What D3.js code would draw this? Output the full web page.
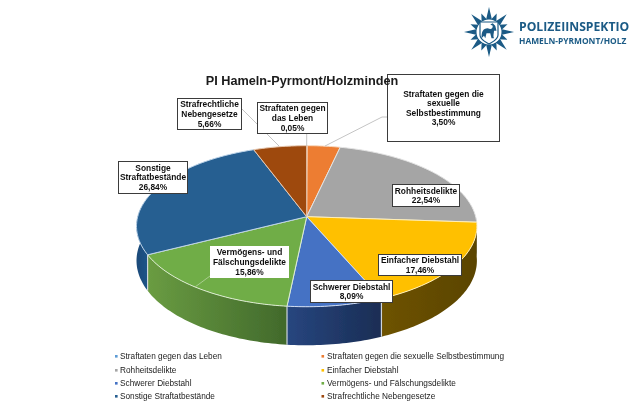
<!DOCTYPE html>
<html lang="de"><head><meta charset="utf-8">
<style>html,body{margin:0;padding:0;background:#fff}svg{display:block}text{font-family:"Liberation Sans",Arial,sans-serif}</style>
<script src="https://cdn.jsdelivr.net/npm/d3@7/dist/d3.min.js"></script></head>
<body><svg id="c" width="630" height="412"></svg>
<script>
// ---- data
const chartTitle = "PI Hameln-Pyrmont/Holzminden";
const categories = ["Straftaten gegen das Leben","Straftaten gegen die sexuelle Selbstbestimmung","Rohheitsdelikte","Einfacher Diebstahl","Schwerer Diebstahl","Vermögens- und Fälschungsdelikte","Sonstige Straftatbestände","Strafrechtliche Nebengesetze"];
const values = [0.05,3.50,22.54,17.46,8.09,15.86,26.84,5.66];
const valueLabels = ["0,05%","3,50%","22,54%","17,46%","8,09%","15,86%","26,84%","5,66%"];
const labelLines = [["Straftaten gegen","das Leben"],["Straftaten gegen die","sexuelle","Selbstbestimmung"],["Rohheitsdelikte"],["Einfacher Diebstahl"],["Schwerer Diebstahl"],["Vermögens- und","Fälschungsdelikte"],["Sonstige","Straftatbestände"],["Strafrechtliche","Nebengesetze"]];
const colors = ["#5B9BD5","#ED7D31","#A5A5A5","#FFC000","#4472C4","#70AD47","#255E91","#9E480E"];
const edgeColors = ["#dbe8f5","#f7d9c0","#e3e3e3","#ffeeb5","#cfdcf2","#dcecd0","#bcd3e8","#e6c8b0"];
const wallLeft = ["#3d6f9e","#a0541f","#777777","#6e5300","#27467f","#6a9c42","#1b4a78","#6e3209"];
const wallRight = ["#3d6f9e","#a0541f","#777777","#5a4400","#1a2d54","#41692b","#205489","#6e3209"];
// ---- layout
const P = {cx:306.7, cy:216.7, a:169, b:79.4, k:0.118, depth:34};
const boxes = [[257,102,70,31],[387,74,112,67],[392,184,67,22],[378,254,83,21],[310,280,82,22],[210,246,78,31],[118,161,69,32],[177,98,64,31]];
const borders = ["#3a3a3a","#3a3a3a","#3a3a3a","#3a3a3a","#3a3a3a","#ffffff","#3a3a3a","#3a3a3a"];
const leaders = [[[306.7,133],[306.7,146]],[[387,117],[382,117],[325,146]],[],[],[],[[210,276],[195,287]],[],[[241,108],[257,124],[279,146]]];
const legendRows = [356,370,383,396], legendCols = [[116,120],[322.5,327]];

const svg = d3.select("#c");
const defs = svg.append("defs");
defs.append("filter").attr("id","soft").attr("x",0).attr("y",0).attr("width","100%").attr("height","100%")
  .append("feGaussianBlur").attr("stdDeviation",0.3);
const g = svg.append("g").attr("filter","url(#soft)");

// perspective projection of the pie disc
const proj = (t, dz=0, r=1) => {
  const s = 1/(1 + P.k*r*Math.cos(t));
  return [P.cx + P.a*r*Math.sin(t)*s, P.cy - P.b*r*Math.cos(t)*s + dz*s];
};
const line = d3.line();
const arcs = d3.pie().sort(null).value(d=>d)(values);
const steps = (a,b) => { const n = Math.max(2,Math.ceil((b-a)/0.02)); return d3.range(n+1).map(i=>a+(b-a)*i/n); };

// side walls
const wallFrom = Math.PI*0.5, wallTo = Math.PI*1.56;
const walls = arcs.map((d,i)=>({i,a:Math.max(d.startAngle,wallFrom),b:Math.min(d.endAngle,wallTo)})).filter(w=>w.b>w.a)
  .sort((p,q)=>Math.abs((q.a+q.b)/2-Math.PI)-Math.abs((p.a+p.b)/2-Math.PI));
walls.forEach(w=>{
  const top = steps(w.a,w.b).map(t=>proj(t)), bot = steps(w.a,w.b).map(t=>proj(t,P.depth)).reverse();
  const xs = top.map(p=>p[0]), id = "wall"+w.i;
  const gr = defs.append("linearGradient").attr("id",id).attr("gradientUnits","userSpaceOnUse")
    .attr("x1",d3.min(xs)).attr("x2",d3.max(xs)).attr("y1",0).attr("y2",0);
  gr.append("stop").attr("offset",0).attr("stop-color",wallLeft[w.i]);
  gr.append("stop").attr("offset",1).attr("stop-color",wallRight[w.i]);
  g.append("path").attr("d",line(top.concat(bot))+"Z").attr("fill",`url(#${id})`);
});
// light seams on the wall
arcs.forEach(d=>{
  if(d.endAngle>Math.PI*0.6 && d.endAngle<Math.PI*1.5)
    g.append("path").attr("d",line([proj(d.endAngle),proj(d.endAngle,P.depth)])).attr("stroke","#cfd6dc").attr("stroke-width",1.2).attr("fill","none");
});
// top surface
arcs.forEach((d,i)=>{
  const pts=[proj(0,0,0)].concat(steps(d.startAngle,d.endAngle).map(t=>proj(t)));
  g.append("path").attr("d",line(pts)+"Z").attr("fill",colors[i]).attr("stroke",edgeColors[i]).attr("stroke-width",1).attr("stroke-linejoin","round");
});
// leaders
leaders.forEach(l=>{ if(l.length) g.append("path").attr("d",line(l)).attr("fill","none").attr("stroke",l[0][0]===210?"#a9cc8f":"#c4c4c4").attr("stroke-width",1); });
// data labels
categories.forEach((c,i)=>{
  const [x,y,w,h]=boxes[i];
  g.append("rect").attr("x",x+.5).attr("y",y+.5).attr("width",w).attr("height",h).attr("fill","#fff").attr("stroke",borders[i]).attr("stroke-width",1);
  const lines=labelLines[i].concat(valueLabels[i]), lh=9.6, y0=y+h/2+.5-(lines.length-1)*lh/2;
  lines.forEach((t,j)=>g.append("text").attr("x",x+w/2+.5).attr("y",y0+j*lh).attr("dy","0.35em").attr("text-anchor","middle")
    .attr("font-size",8.4).attr("font-weight","bold").attr("fill","#111").text(t));
});
// title
g.append("text").attr("x",302).attr("y",85).attr("text-anchor","middle").attr("font-size",12.7).attr("font-weight","bold").attr("fill","#1a1a1a").text(chartTitle);
// legend
categories.forEach((c,i)=>{
  const row=legendRows[i>>1], col=legendCols[i%2];
  g.append("rect").attr("x",col[0]-1).attr("y",row-1).attr("width",2.6).attr("height",2.6).attr("fill",colors[i]);
  g.append("text").attr("x",col[1]).attr("y",row).attr("dy","0.35em").attr("font-size",8.25).attr("fill","#222").text(c);
});
// logo
const logoBlue="#1a5a85", L=g.append("g").attr("transform","translate(489,32)");
d3.range(16).forEach(i=>{
  const r=i%2===0?25:20;
  L.append("path").attr("transform",`rotate(${i*22.5})`).attr("d",line([[0,-r],[3,-12],[-3,-12]])+"Z").attr("fill",logoBlue);
});
L.append("circle").attr("r",12.5).attr("fill","#fff");
L.append("path").attr("d","M-9,-10H9V3C9,8 3,10 0,12C-3,10 -9,8 -9,3Z").attr("fill","#fff").attr("stroke",logoBlue).attr("stroke-width",1.2);
L.append("path").attr("transform","scale(1.25)").attr("d","M-6,5C-6,0 -5,-3 -1,-3C1,-2 3,-2 3,-5L1,-6L3,-7L5,-5L6,-1L4,-1C4,1 3,3 4,5L2,5L1,1L-2,1L-3,5L-4,3Z").attr("fill",logoBlue);
g.append("text").attr("x",519).attr("y",31).attr("font-size",12.2).attr("font-weight","700").attr("fill",logoBlue).style("font-family","'Open Sans'").text("POLIZEIINSPEKTIO");
g.append("text").attr("x",519).attr("y",43.5).attr("font-size",8.4).attr("font-weight","700").attr("fill",logoBlue).style("font-family","'Open Sans'").text("HAMELN-PYRMONT/HOLZ");
</script></body></html>
